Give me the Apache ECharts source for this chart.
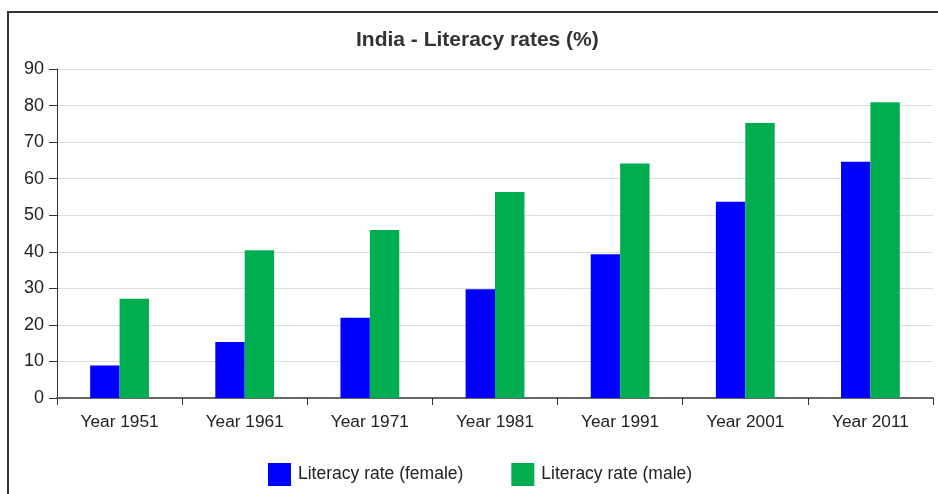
<!DOCTYPE html>
<html><head><meta charset="utf-8">
<script src="https://cdn.jsdelivr.net/npm/echarts@6/dist/echarts.min.js"></script>
<style>html,body{margin:0;padding:0;background:#fff;}#c{width:938px;height:494px;}</style>
</head><body><div id="c"></div>
<script>
const categories = ['Year 1951','Year 1961','Year 1971','Year 1981','Year 1991','Year 2001','Year 2011'];
const femaleRates = [8.86, 15.35, 21.97, 29.76, 39.29, 53.67, 64.63];
const maleRates = [27.16, 40.40, 45.96, 56.38, 64.13, 75.26, 80.88];
const seriesNames = ['Literacy rate (female)', 'Literacy rate (male)'];
const titleText = 'India - Literacy rates (%)';

const chart = echarts.init(document.getElementById('c'));
const font = 'Liberation Sans, Arial, sans-serif';
chart.setOption({
  animation: false,
  textStyle: {fontFamily: font},
  graphic: [{
    type: 'rect', silent: true,
    shape: {x: 8, y: 12, width: 1200, height: 800},
    style: {fill: 'none', stroke: '#333', lineWidth: 2}
  }],
  title: {
    text: titleText, left: 351, top: 25,
    textStyle: {fontFamily: font, fontSize: 21, fontWeight: 'bold', color: '#333'}
  },
  legend: {
    bottom: 3, left: 263, itemWidth: 23, itemHeight: 23, itemGap: 48,
    icon: 'rect',
    textStyle: {fontFamily: font, fontSize: 17.5, color: '#222', padding: [0, 0, 0, 2]},
    data: seriesNames
  },
  grid: {left: 57, right: 5, top: 69, bottom: 96, containLabel: false},
  xAxis: {
    type: 'category', data: categories,
    axisLine: {lineStyle: {color: '#666', width: 2}},
    axisTick: {show: true, length: 7, lineStyle: {color: '#333', width: 1}},
    axisLabel: {fontFamily: font, fontSize: 17.3, color: '#222', margin: 16}
  },
  yAxis: {
    type: 'value', min: 0, max: 90, interval: 10,
    axisLine: {show: true, lineStyle: {color: '#333', width: 1}},
    axisTick: {show: true, length: 8, lineStyle: {color: '#333'}},
    splitLine: {lineStyle: {color: '#ddd'}},
    axisLabel: {fontFamily: font, fontSize: 18, color: '#222', margin: 13}
  },
  series: [
    {name: seriesNames[0], type: 'bar', data: femaleRates, barGap: '0%', barCategoryGap: '53%',
     itemStyle: {color: '#0000ff'}},
    {name: seriesNames[1], type: 'bar', data: maleRates, barGap: '0%', barCategoryGap: '53%',
     itemStyle: {color: '#00ad50'}}
  ]
});
</script></body></html>
